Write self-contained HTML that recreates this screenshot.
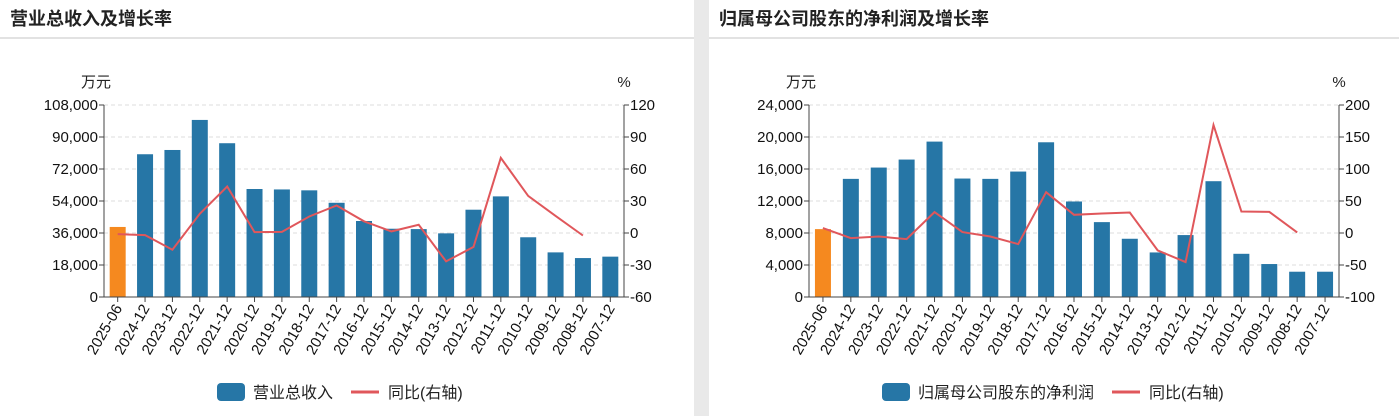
<!DOCTYPE html>
<html><head><meta charset="utf-8"><style>
body{margin:0;width:1399px;height:416px;background:#e9e9e9;overflow:hidden;font-family:"Liberation Sans","Noto Sans CJK SC",sans-serif}
.panel{position:absolute;top:0;height:416px;background:#fff}
.title{position:absolute;left:10px;top:5px;font-size:18px;font-weight:bold;color:#222}
.sep{position:absolute;left:0;right:0;top:37px;height:2px;background:#e2e2e2}
svg{position:absolute;left:0;top:0}
</style></head><body>
<div class="panel" style="left:0;width:694px">
<div class="title">营业总收入及增长率</div><div class="sep"></div>
<svg id="c1" width="694" height="416"></svg></div>
<div class="panel" style="left:709px;width:690px">
<div class="title">归属母公司股东的净利润及增长率</div><div class="sep"></div>
<svg id="c2" width="690" height="416"></svg></div>
<script>
const categories=["2025-06","2024-12","2023-12","2022-12","2021-12","2020-12","2019-12","2018-12","2017-12","2016-12","2015-12","2014-12","2013-12","2012-12","2011-12","2010-12","2009-12","2008-12","2007-12"];
const revenueValues=[39400,80300,82700,99600,86500,60750,60500,60000,53000,42750,38400,38200,35800,49100,56600,33600,25100,21900,22700];
const revenueGrowth=[-1,-2,-15.7,18,43.6,0.8,1,15.5,25.8,11,1.5,7.7,-26.6,-13,70.4,34.8,16,-2.3,null];
const revenueLeftTicks=[0,18000,36000,54000,72000,90000,108000];
const revenueRightTicks=[-60,-30,0,30,60,90,120];
const profitValues=[8485,14766,16180,17180,19425,14808,14766,15680,19340,11940,9360,7280,5570,7740,14475,5400,4120,3160,3160];
const profitGrowth=[7.6,-8,-5.4,-9.5,32.6,1.4,-5.4,-17.3,63.8,28.4,30.5,32,-27.2,-45.4,168.8,33.6,33,0.9,null];
const profitLeftTicks=[0,4000,8000,12000,16000,20000,24000];
const profitRightTicks=[-100,-50,0,50,100,150,200];
const NS="http://www.w3.org/2000/svg";
function mk(svg,tag,attrs,text){const e=document.createElementNS(NS,tag);for(const k in attrs)e.setAttribute(k,attrs[k]);if(text!==undefined)e.textContent=text;svg.appendChild(e);return e;}
function draw(id,x0,x1,vals,growth,lt,rt,barName,legX){
 const svg=document.getElementById(id);const yT=105,yB=297;
 const yL=v=>yB-(v-lt[0])/(lt[lt.length-1]-lt[0])*(yB-yT);
 const yR=v=>yB-(v-rt[0])/(rt[rt.length-1]-rt[0])*(yB-yT);
 const band=(x1-x0)/categories.length;const xC=i=>x0+band*(i+0.5);
 mk(svg,'text',{x:x0-8,y:87,'font-size':15,fill:'#222','text-anchor':'middle'},'万元');
 mk(svg,'text',{x:x1,y:87,'font-size':15,fill:'#222','text-anchor':'middle'},'%');
 lt.forEach((t,i)=>{const y=yL(t);
  if(i>0){const g=mk(svg,'line',{x1:x0,x2:x1,y1:y,y2:y,stroke:'#ddd','stroke-dasharray':'4,3'});}
  mk(svg,'line',{x1:x0-5,x2:x0,y1:y,y2:y,stroke:'#444'});
  const l=mk(svg,'text',{x:x0-6,y:y+5,'font-size':15,fill:'#111','text-anchor':'end'},t.toLocaleString('en-US'));
  });
 rt.forEach(t=>{const y=yR(t);mk(svg,'line',{x1:x1,x2:x1+5,y1:y,y2:y,stroke:'#444'});
  const l=mk(svg,'text',{x:x1+6,y:y+5,'font-size':15,fill:'#111'},String(t));
  });
 vals.forEach((v,i)=>{const y=yL(v);const b=mk(svg,'rect',{x:xC(i)-8,y:y,width:16,height:yB-y,fill:i==0?'#f5891f':'#2676a6'});
  });
 mk(svg,'line',{x1:x0,x2:x0,y1:yT,y2:yB,stroke:'#444'});
 mk(svg,'line',{x1:x1,x2:x1,y1:yT,y2:yB,stroke:'#444'});
 mk(svg,'line',{x1:x0,x2:x1,y1:yB,y2:yB,stroke:'#444'});
 categories.forEach((c,i)=>{const x=xC(i);mk(svg,'line',{x1:x,x2:x,y1:yB,y2:yB+5,stroke:'#444'});
  const t=mk(svg,'text',{x:x+5,y:yB+11,'font-size':15,fill:'#111','text-anchor':'end',transform:`rotate(-60 ${x+5} ${yB+11})`},c);
  });
 let d='';growth.forEach((g,i)=>{if(g===null)return;d+=(d?'L':'M')+xC(i).toFixed(1)+','+yR(g).toFixed(1);});
 const p=mk(svg,'path',{d:d,fill:'none',stroke:'#e0575b','stroke-width':2});
 
 const lr=mk(svg,'rect',{x:legX,y:383,width:28,height:18,rx:4,fill:'#2676a6'});
 
 const lt1=mk(svg,'text',{x:legX+36,y:398,'font-size':16,fill:'#222'},barName);
 
 const w=barName.length*16+36+legX+18;
 mk(svg,'line',{x1:w,x2:w+28,y1:392,y2:392,stroke:'#e0575b','stroke-width':3});
 const lt2=mk(svg,'text',{x:w+37,y:398,'font-size':16,fill:'#222'},'同比(右轴)');
 
}
draw('c1',104,624,revenueValues,revenueGrowth,revenueLeftTicks,revenueRightTicks,'营业总收入',217);
draw('c2',100,630,profitValues,profitGrowth,profitLeftTicks,profitRightTicks,'归属母公司股东的净利润',173);
</script></body></html>
